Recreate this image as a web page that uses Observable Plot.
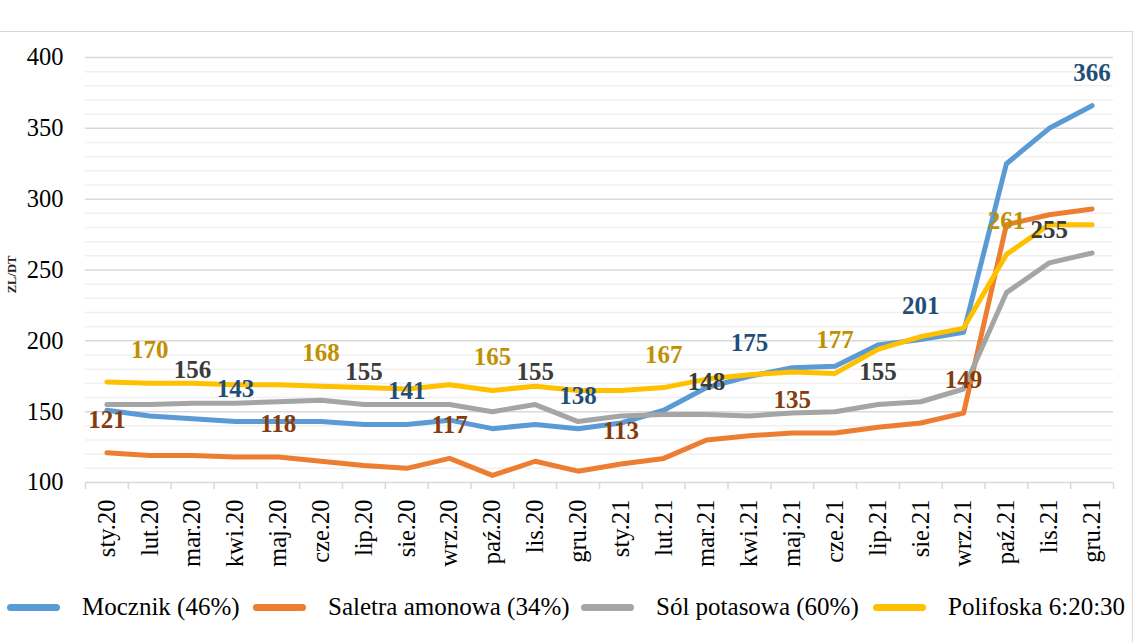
<!DOCTYPE html>
<html><head><meta charset="utf-8">
<script src="https://cdn.jsdelivr.net/npm/d3@7"></script>
<script src="https://cdn.jsdelivr.net/npm/@observablehq/plot@0.6"></script>
<style>
body{margin:0;background:#fff;}
#wrap{position:relative;width:1141px;height:642px;overflow:hidden;font-family:"Liberation Serif","Times New Roman",serif;background:#fff;}
#frame{position:absolute;left:-2px;top:31px;width:1134px;height:640px;border-top:1.5px solid #d9d9d9;border-right:1.5px solid #d9d9d9;}
#chart{position:absolute;left:0;top:0;}
#legend{position:absolute;left:0;top:589px;width:1141px;height:36px;}
.item{position:absolute;top:0;height:36px;display:flex;align-items:center;font-size:25px;color:#000;white-space:nowrap;}
.sw{width:53px;height:7px;border-radius:4px;margin-right:22px;flex:none;}
</style></head><body>
<div id="wrap"><div id="frame"></div><div id="chart"></div><div id="legend"></div></div>
<script>
// ---- data ----
const months = ["sty.20","lut.20","mar.20","kwi.20","maj.20","cze.20","lip.20","sie.20","wrz.20","paź.20","lis.20","gru.20",
                "sty.21","lut.21","mar.21","kwi.21","maj.21","cze.21","lip.21","sie.21","wrz.21","paź.21","lis.21","gru.21"];
const seriesNames = ["Mocznik (46%)", "Saletra amonowa (34%)", "Sól potasowa (60%)", "Polifoska 6:20:30"];
const mocznik  = [151,147,145,143,143,143,141,141,144,138,141,138,142,151,167,175,181,182,197,201,206,325,350,366];
const saletra  = [121,119,119,118,118,115,112,110,117,105,115,108,113,117,130,133,135,135,139,142,149,282,289,293];
const solPotas = [155,155,156,156,157,158,155,155,155,150,155,143,147,148,148,147,149,150,155,157,166,234,255,262];
const polifoska= [171,170,170,169,169,168,167,166,169,165,168,165,165,167,173,176,178,177,194,203,209,261,282,282];
const mocznikLabels  = ["kwi.20","sie.20","gru.20","kwi.21","sie.21","gru.21"];
const saletraLabels  = ["sty.20","maj.20","wrz.20","sty.21","maj.21","wrz.21"];
const solPotasLabels = ["mar.20","lip.20","lis.20","mar.21","lip.21","lis.21"];
const polifoskaLabels= ["lut.20","cze.20","paź.20","lut.21","cze.21","paź.21"];
const yTicks = [100,150,200,250,300,350,400];
const yMinorTicks = [110,120,130,140,160,170,180,190,210,220,230,240,260,270,280,290,310,320,330,340,360,370,380,390];
const yLabel = "ZL/DT";

// ---- styles ----
const lineColors  = ["#5B9BD5","#ED7D31","#A5A5A5","#FFC000"];
const labelColors = ["#1F4E79","#843C0C","#3B3B3B","#BF9000"];

const seriesValues = [mocznik, saletra, solPotas, polifoska];
const seriesLabels = [mocznikLabels, saletraLabels, solPotasLabels, polifoskaLabels];

const data = seriesNames.flatMap((s, k) => seriesValues[k].map((v, i) => ({series: s, i, month: months[i], value: v})));

const labelMarks = seriesNames.map((s, k) => {
  const pts = seriesLabels[k].map(m => { const i = months.indexOf(m); return {i, value: seriesValues[k][i]}; });
  return Plot.text(pts, {x: "i", y: "value", text: d => String(d.value), dy: -33,
    fill: labelColors[k], fontWeight: "bold", fontSize: 25});
});

const boundaries = d3.range(months.length + 1).map(i => i - 0.5);

const chart = Plot.plot({
  width: 1141,
  height: 580,
  marginTop: 57,
  marginBottom: 98,
  marginLeft: 85,
  marginRight: 28,
  style: {fontFamily: "'Liberation Serif','Times New Roman',serif", fontSize: "24.5px", color: "#000", background: "transparent", overflow: "visible"},
  x: {domain: [-0.5, months.length - 0.5], axis: null},
  y: {domain: [100, 400], axis: null},
  color: {domain: seriesNames, range: lineColors},
  marks: [
    Plot.ruleY(yMinorTicks, {stroke: "#f0f0f0", strokeWidth: 1.5}),
    Plot.ruleY(yTicks, {stroke: "#d9d9d9", strokeWidth: 1.5}),
    Plot.axisX({ticks: boundaries, tickFormat: () => "", tickSize: 7, stroke: "#d9d9d9", strokeWidth: 1.5, label: null}),
    Plot.axisX({ticks: d3.range(months.length), tickFormat: i => months[i], tickRotate: -90, tickSize: 0, tickPadding: 17, fill: "#000", label: null}),
    Plot.axisY({ticks: yTicks, tickSize: 0, tickPadding: 22, fill: "#000", label: null}),
    Plot.text([yLabel], {frameAnchor: "left", textAnchor: "middle", lineAnchor: "middle", text: d => d, rotate: -90, dx: -74, dy: 4.5, fontSize: 12.5, fontWeight: "bold", fill: "#222"}),
    Plot.line(data, {x: "i", y: "value", z: "series", stroke: "series", strokeWidth: 5, strokeLinecap: "round", strokeLinejoin: "round"}),
    ...labelMarks
  ]
});
document.getElementById("chart").appendChild(chart);

// ---- legend ----
const legendLeft = [7, 253, 581, 873];
const legend = document.getElementById("legend");
seriesNames.forEach((s, k) => {
  const it = document.createElement("div");
  it.className = "item";
  it.style.left = legendLeft[k] + "px";
  const sw = document.createElement("span");
  sw.className = "sw";
  sw.style.background = lineColors[k];
  const tx = document.createElement("span");
  tx.textContent = s;
  it.appendChild(sw); it.appendChild(tx);
  legend.appendChild(it);
});
</script>
</body></html>
